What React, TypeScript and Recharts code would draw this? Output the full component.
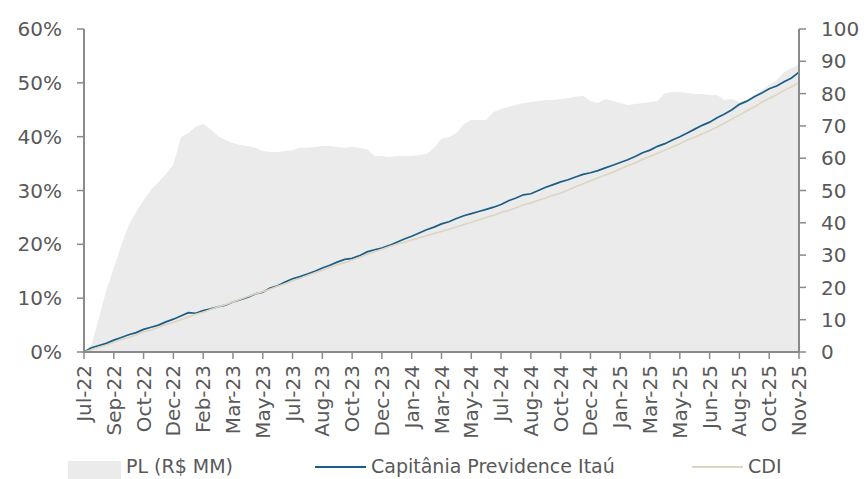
import { ComposedChart, Area, Line, XAxis, YAxis } from "recharts";

const tickLabels = [
  "Jul-22", "Sep-22", "Oct-22", "Dec-22", "Feb-23", "Mar-23", "May-23", "Jul-23", "Aug-23",
  "Oct-23", "Dec-23", "Jan-24", "Mar-24", "May-24", "Jul-24", "Aug-24", "Oct-24", "Dec-24",
  "Jan-25", "Mar-25", "May-25", "Jun-25", "Aug-25", "Oct-25", "Nov-25",
];

// PL (R$ MM), right axis
const pl = [
  0, 2.2, 10.5, 19.2, 26, 33, 39.3, 43.3, 47, 50.2,
  52.6, 55, 58, 66.5, 67.8, 69.7, 70.6, 69, 66.9, 65.6,
  64.7, 64.1, 63.8, 63.2, 62.2, 61.9, 61.9, 62.2, 62.5, 63.2,
  63.2, 63.5, 63.8, 63.8, 63.5, 63.2, 63.5, 63.2, 62.8, 60.7,
  60.7, 60.4, 60.7, 60.7, 60.7, 61, 61.3, 63.2, 66, 66.6,
  67.8, 70.6, 71.8, 71.8, 71.8, 74.3, 75.2, 75.9, 76.5, 77.1,
  77.4, 77.7, 78, 78, 78.3, 78.6, 79, 79.3, 77.7, 77.1,
  78.3, 77.7, 77.1, 76.5, 76.8, 77.1, 77.4, 77.7, 80.2, 80.5,
  80.5, 80.2, 79.9, 79.9, 79.6, 79.6, 78, 78.3, 77.4, 78,
  79.6, 81.1, 82.7, 84.2, 86.7, 87.9, 88.9,
];

// Capitânia Previdence Itaú, % accumulated
const fund = [
  0, 0.8, 1.2, 1.6, 2.2, 2.7, 3.2, 3.6, 4.2, 4.6,
  5.0, 5.6, 6.1, 6.7, 7.3, 7.2, 7.7, 8.0, 8.4, 8.7,
  9.3, 9.7, 10.2, 10.8, 11.1, 11.9, 12.3, 13.0, 13.6, 14.0,
  14.5, 15.0, 15.6, 16.1, 16.7, 17.2, 17.4, 17.9, 18.6, 19.0,
  19.3, 19.8, 20.4, 21.0, 21.5, 22.1, 22.7, 23.2, 23.8, 24.2,
  24.8, 25.3, 25.7, 26.1, 26.5, 26.9, 27.4, 28.1, 28.6, 29.2,
  29.4, 30.0, 30.6, 31.1, 31.6, 32.0, 32.5, 33.0, 33.3, 33.7,
  34.2, 34.7, 35.2, 35.7, 36.3, 37.0, 37.5, 38.2, 38.7, 39.4,
  40.0, 40.7, 41.4, 42.1, 42.7, 43.5, 44.2, 45.0, 46.0, 46.6,
  47.4, 48.1, 48.9, 49.4, 50.2, 50.9, 52.0,
];

// CDI, % accumulated
const cdi = [
  0, 0.4, 0.9, 1.3, 1.8, 2.3, 2.7, 3.2, 3.7, 4.1,
  4.6, 5.1, 5.5, 6.0, 6.5, 7.0, 7.4, 7.9, 8.4, 8.8,
  9.3, 9.8, 10.3, 10.8, 11.2, 11.7, 12.2, 12.7, 13.2, 13.7,
  14.2, 14.7, 15.2, 15.7, 16.2, 16.6, 17.1, 17.6, 18.1, 18.6,
  19.1, 19.6, 20.0, 20.4, 20.8, 21.2, 21.6, 22.0, 22.4, 22.8,
  23.2, 23.7, 24.1, 24.5, 25.0, 25.4, 25.9, 26.3, 26.8, 27.3,
  27.7, 28.2, 28.6, 29.1, 29.5, 30.1, 30.7, 31.2, 31.8, 32.3,
  32.9, 33.4, 34.0, 34.6, 35.1, 35.8, 36.3, 36.9, 37.5, 38.1,
  38.7, 39.4, 39.9, 40.5, 41.1, 41.8, 42.5, 43.3, 44.0, 44.8,
  45.5, 46.4, 47.1, 47.8, 48.6, 49.3, 50.0,
];

const leftTicks = [0, 10, 20, 30, 40, 50, 60];
const rightTicks = [0, 10, 20, 30, 40, 50, 60, 70, 80, 90, 100];

const STEPS_PER_TICK = 4;
const data = pl.map((v, i) => ({ i, pl: v, fund: fund[i], cdi: cdi[i] }));
const xTicks = tickLabels.map((_, k) => k * STEPS_PER_TICK);

const FONT = "'DejaVu Sans', sans-serif";
const TEXT = "#595959";
const AXIS = "#8a8a8a";
const BLUE = "#1b5e87";
const BEIGE = "#ddd5bf";
const GREY = "#ebebeb";

function XTick({ x, y, payload }: any) {
  const label = tickLabels[Math.round(payload.value / STEPS_PER_TICK)];
  return (
    <text
      x={x}
      y={y}
      transform={`rotate(-90, ${x}, ${y})`}
      textAnchor="end"
      dominantBaseline="central"
      fill={TEXT}
      fontSize={20}
      fontFamily={FONT}
    >
      {label}
    </text>
  );
}

export default function App() {
  return (
    <div style={{ position: "absolute", left: 0, top: 0, width: 866, height: 479, background: "#fff", overflow: "hidden" }}>
      <ComposedChart width={866} height={479} data={data} margin={{ top: 29, right: 0, bottom: 0, left: 0 }}>
        <XAxis
          xAxisId="x"
          dataKey="i"
          type="number"
          domain={[0, 96]}
          ticks={xTicks}
          interval={0}
          height={127}
          stroke={AXIS}
          axisLine={{ stroke: AXIS, strokeWidth: 2 }}
          tickLine={{ stroke: AXIS, strokeWidth: 1.5 }}
          tickSize={7}
          tickMargin={6}
          tick={<XTick />}
        />
        <YAxis
          yAxisId="left"
          orientation="left"
          width={84}
          domain={[0, 60]}
          ticks={leftTicks}
          interval={0}
          tickFormatter={(v) => `${v}%`}
          axisLine={{ stroke: AXIS, strokeWidth: 2 }}
          tickLine={{ stroke: AXIS, strokeWidth: 1.5 }}
          tickSize={7}
          tickMargin={15}
          tick={{ fill: TEXT, fontSize: 20, fontFamily: FONT }}
        />
        <YAxis
          yAxisId="right"
          orientation="right"
          width={67}
          domain={[0, 100]}
          ticks={rightTicks}
          interval={0}
          axisLine={{ stroke: AXIS, strokeWidth: 2 }}
          tickLine={{ stroke: AXIS, strokeWidth: 1.5 }}
          tickSize={7}
          tickMargin={15}
          tick={{ fill: TEXT, fontSize: 20, fontFamily: FONT, textAnchor: "start" }}
        />
        <Area
          xAxisId="x"
          yAxisId="right"
          dataKey="pl"
          type="linear"
          fill={GREY}
          fillOpacity={1}
          stroke="none"
          isAnimationActive={false}
        />
        <Line
          xAxisId="x"
          yAxisId="left"
          dataKey="fund"
          type="linear"
          stroke={BLUE}
          strokeWidth={1.7}
          dot={false}
          isAnimationActive={false}
        />
        <Line
          xAxisId="x"
          yAxisId="left"
          dataKey="cdi"
          type="linear"
          stroke={BEIGE}
          strokeWidth={1.6}
          dot={false}
          isAnimationActive={false}
        />
      </ComposedChart>
      <svg width={866} height={479} style={{ position: "absolute", left: 0, top: 0, pointerEvents: "none" }}>
        <rect x={68} y={461} width={53} height={18} fill={GREY} />
        <text x={126} y={473} fill={TEXT} fontSize={19} fontFamily={FONT}>PL (R$ MM)</text>
        <line x1={315} x2={366} y1={467} y2={467} stroke={BLUE} strokeWidth={2} />
        <text x={371} y={473} fill={TEXT} fontSize={19} fontFamily={FONT}>Capitânia Previdence Itaú</text>
        <line x1={692} x2={743} y1={467} y2={467} stroke={BEIGE} strokeWidth={2} />
        <text x={748} y={473} fill={TEXT} fontSize={19} fontFamily={FONT}>CDI</text>
      </svg>
    </div>
  );
}
